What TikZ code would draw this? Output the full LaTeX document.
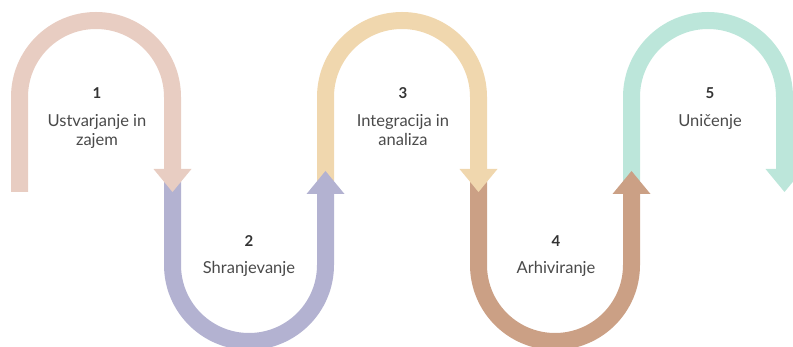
\documentclass[tikz,border=0pt]{standalone}
\usepackage{fontspec}
\setmainfont{Lato}
\definecolor{cpink}{HTML}{E8CDC2}
\definecolor{cpurple}{HTML}{B3B2D1}
\definecolor{cyellow}{HTML}{F0D7AE}
\definecolor{cbrown}{HTML}{CBA085}
\definecolor{cmint}{HTML}{BCE6DA}
\definecolor{ctext}{HTML}{4A4A4A}
\definecolor{cnum}{HTML}{333333}
\begin{document}
\begin{tikzpicture}[x=1pt,y=1pt,
  band/.style={line width=17pt},
  numlbl/.style={font=\fontsize{15}{18}\selectfont\bfseries, text=cnum, anchor=base, inner sep=0pt},
  txtlbl/.style={font=\fontsize{16.5}{19}\selectfont, text=ctext, anchor=base, inner sep=0pt, align=center}]
\useasboundingbox (0,0) rectangle (793,347);
% segment 5 (mint, down)
\draw[band, cmint] (631.5,166) -- (631.5,250) arc[start angle=180,end angle=0,radius=76.5] -- (784.5,177);
\fill[cmint] (765.5,178) -- (803.5,178) -- (784.5,155) -- cycle;
% segment 4 (brown, up)
\draw[band, cbrown] (478.5,166) -- (478.5,82) arc[start angle=180,end angle=360,radius=76.5] -- (631.5,154);
\fill[cbrown] (612.5,153) -- (650.5,153) -- (631.5,176) -- cycle;
% segment 3 (yellow, down)
\draw[band, cyellow] (325.5,166) -- (325.5,250) arc[start angle=180,end angle=0,radius=76.5] -- (478.5,177);
\fill[cyellow] (459.5,178) -- (497.5,178) -- (478.5,155) -- cycle;
% segment 2 (purple, up)
\draw[band, cpurple] (172.5,166) -- (172.5,82) arc[start angle=180,end angle=360,radius=76.5] -- (325.5,154);
\fill[cpurple] (306.5,153) -- (344.5,153) -- (325.5,176) -- cycle;
% segment 1 (pink, down)
\draw[band, cpink] (19.5,155) -- (19.5,250) arc[start angle=180,end angle=0,radius=76.5] -- (172.5,177);
\fill[cpink] (153.5,178) -- (191.5,178) -- (172.5,155) -- cycle;
% labels
\node[numlbl] (n1) at (97,248) {1};
\node[txtlbl] (t1) at (97,201) {Ustvarjanje in\\zajem};
\node[numlbl] (n2) at (249,100) {2};
\node[txtlbl] (t2) at (249,73) {Shranjevanje};
\node[numlbl] (n3) at (403,248) {3};
\node[txtlbl] (t3) at (403,201) {Integracija in\\analiza};
\node[numlbl] (n4) at (556,100) {4};
\node[txtlbl] (t4) at (556,73) {Arhiviranje};
\node[numlbl] (n5) at (710,248) {5};
\node[txtlbl] (t5) at (710,220) {Uničenje};
\end{tikzpicture}
\end{document}
